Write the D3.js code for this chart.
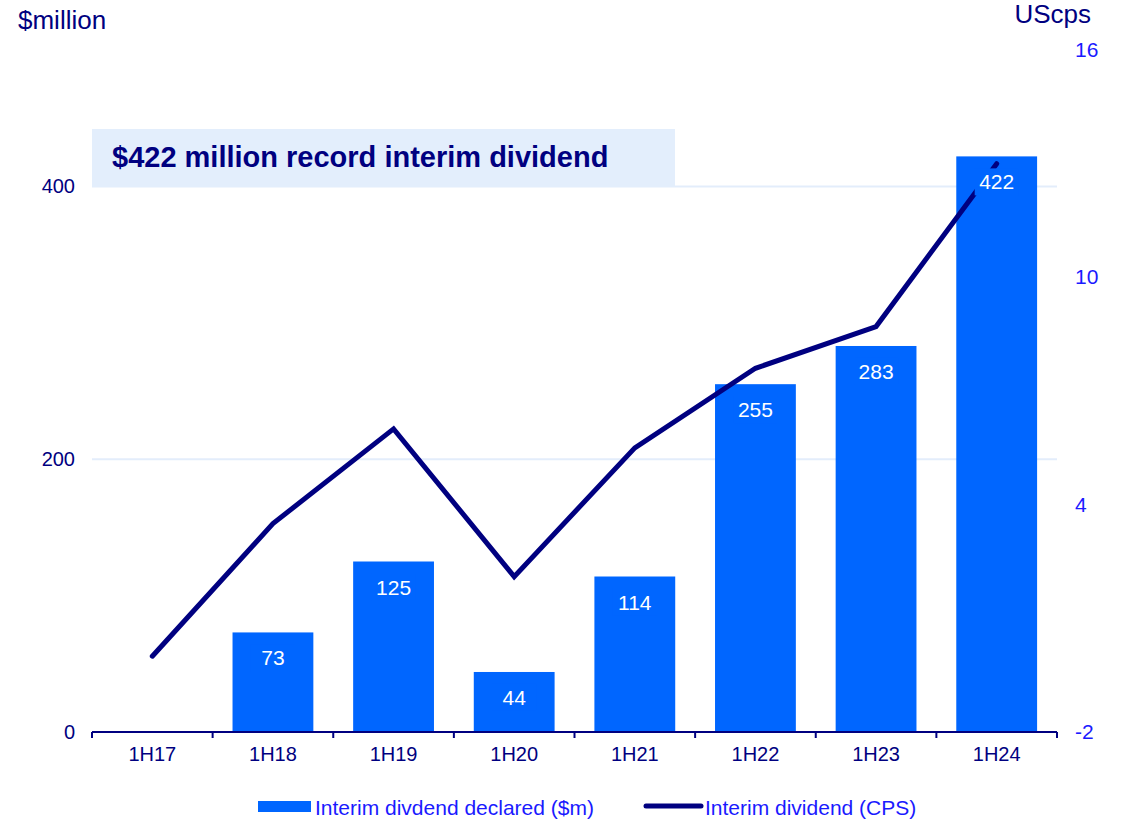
<!DOCTYPE html>
<html>
<head>
<meta charset="utf-8">
<script src="https://cdn.jsdelivr.net/npm/d3@7"></script>
<style>
  body { margin: 0; background: #fff; }
  svg text { font-family: "Liberation Sans", Arial, sans-serif; }
</style>
</head>
<body>
<div id="chart"></div>
<script>
// chart data
var periods = ["1H17", "1H18", "1H19", "1H20", "1H21", "1H22", "1H23", "1H24"];
var dividendM = [0, 73, 125, 44, 114, 255, 283, 422];    // $m, bars
var dividendCps = [0, 3.5, 6.0, 2.1, 5.5, 7.6, 8.7, 13.0]; // US cps, line
var leftTicks = [0, 200, 400];
var rightTicks = [-2, 4, 10, 16];

var width = 1127, height = 820;
var navy = "#000080", blue = "#0066ff", tickBlue = "#1a1aff";

var svg = d3.select("#chart").append("svg")
    .attr("width", width)
    .attr("height", height);

// scales
var x = d3.scaleBand().domain(periods).range([92, 1057]).paddingInner(0.33).paddingOuter(0.165);
var xOuter = d3.scaleBand().domain(periods).range([92, 1057]);
var yL = d3.scaleLinear().domain([0, 500]).range([732, 50]);
var yR = d3.scaleLinear().domain([-2, 16]).range([732, 50]);

// gridlines
svg.selectAll(".grid")
    .data(leftTicks.filter(function (d) { return d > 0; }))
    .enter().append("line")
    .attr("x1", 92).attr("x2", 1057)
    .attr("y1", function (d) { return yL(d); })
    .attr("y2", function (d) { return yL(d); })
    .attr("stroke", "#e3edfb").attr("stroke-width", 2);

// title box
svg.append("rect")
    .attr("x", 92).attr("y", 129).attr("width", 583).attr("height", 58)
    .attr("fill", "#e3eefc");
svg.append("text")
    .attr("x", 112).attr("y", 167)
    .attr("font-size", 29).attr("font-weight", "bold")
    .attr("fill", navy)
    .text("$422 million record interim dividend");

// bars
svg.selectAll(".bar")
    .data(periods)
    .enter().append("rect")
    .attr("class", "bar")
    .attr("x", function (d) { return x(d); })
    .attr("width", x.bandwidth())
    .attr("y", function (d, i) { return yL(dividendM[i]); })
    .attr("height", function (d, i) { return yL(0) - yL(dividendM[i]); })
    .attr("fill", blue);

// CPS line
var line = d3.line()
    .x(function (d, i) { return x(periods[i]) + x.bandwidth() / 2; })
    .y(function (d) { return yR(d); });
svg.append("path")
    .datum(dividendCps)
    .attr("d", line)
    .attr("fill", "none")
    .attr("stroke", navy)
    .attr("stroke-width", 5)
    .attr("stroke-linecap", "round")
    .attr("stroke-linejoin", "miter");

// bar labels (with bar-coloured backing so the line sits behind them)
var labelled = periods.map(function (p, i) { return { p: p, v: dividendM[i] }; })
    .filter(function (d) { return d.v > 0; });
var lab = svg.selectAll(".lab").data(labelled).enter().append("g");
lab.append("rect")
    .attr("x", function (d) { return x(d.p) + x.bandwidth() / 2 - 22; })
    .attr("y", function (d) { return yL(d.v) + 12; })
    .attr("width", 44).attr("height", 27)
    .attr("fill", blue);
lab.append("text")
    .attr("x", function (d) { return x(d.p) + x.bandwidth() / 2; })
    .attr("y", function (d) { return yL(d.v) + 33; })
    .attr("text-anchor", "middle")
    .attr("font-size", 21)
    .attr("fill", "#fff")
    .text(function (d) { return d.v; });

// x axis
var xAxis = svg.append("g")
    .attr("transform", "translate(0,732)")
    .call(d3.axisBottom(x).tickSize(0).tickPadding(15));
xAxis.select(".domain").remove();
xAxis.selectAll("text").attr("font-size", 20).attr("fill", navy)
    .style("font-family", "Liberation Sans, Arial, sans-serif");
svg.append("line")
    .attr("x1", 92).attr("x2", 1057).attr("y1", 732).attr("y2", 732)
    .attr("stroke", navy).attr("stroke-width", 2);
var bounds = periods.map(function (p) { return xOuter(p); }).concat([1057]);
svg.selectAll(".xtick").data(bounds).enter().append("line")
    .attr("x1", function (d) { return d; }).attr("x2", function (d) { return d; })
    .attr("y1", 732).attr("y2", 738)
    .attr("stroke", navy).attr("stroke-width", 2);

// left axis labels
svg.selectAll(".ly").data(leftTicks).enter().append("text")
    .attr("x", 75).attr("y", function (d) { return yL(d) + 7; })
    .attr("text-anchor", "end")
    .attr("font-size", 20).attr("fill", navy)
    .text(function (d) { return d; });

// right axis labels
svg.selectAll(".ry").data(rightTicks).enter().append("text")
    .attr("x", 1075).attr("y", function (d) { return yR(d) + 7; })
    .attr("font-size", 21).attr("fill", tickBlue)
    .text(function (d) { return d; });

// axis titles
svg.append("text").attr("x", 18).attr("y", 29)
    .attr("font-size", 26).attr("fill", navy).text("$million");
svg.append("text").attr("x", 1091).attr("y", 23)
    .attr("text-anchor", "end")
    .attr("font-size", 26).attr("fill", navy).text("UScps");

// legend
svg.append("rect").attr("x", 258).attr("y", 801).attr("width", 53).attr("height", 11).attr("fill", blue);
svg.append("text").attr("x", 315).attr("y", 815)
    .attr("font-size", 21).attr("fill", tickBlue).text("Interim divdend declared ($m)");
svg.append("line").attr("x1", 646).attr("x2", 701).attr("y1", 806).attr("y2", 806)
    .attr("stroke", navy).attr("stroke-width", 5).attr("stroke-linecap", "round");
svg.append("text").attr("x", 705).attr("y", 815)
    .attr("font-size", 21).attr("fill", tickBlue).text("Interim dividend (CPS)");
</script>
</body>
</html>
